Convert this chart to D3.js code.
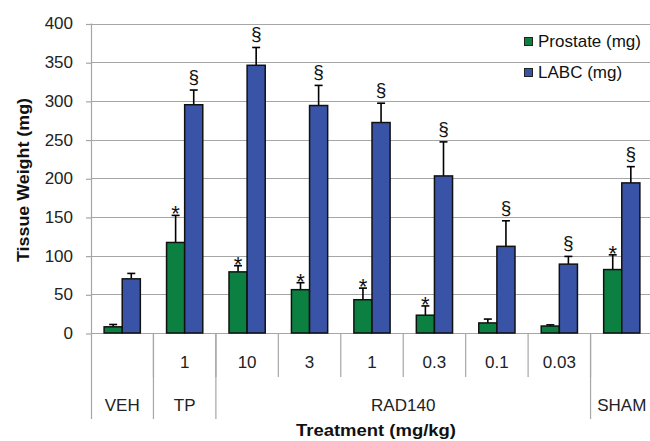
<!DOCTYPE html>
<html>
<head>
<meta charset="utf-8">
<script src="https://cdn.jsdelivr.net/npm/d3@7"></script>
<style>
  html, body { margin: 0; padding: 0; background: #fff; }
  svg { display: block; }
  text { font-family: "Liberation Sans", Arial, sans-serif; }
</style>
</head>
<body>
<svg id="chart" width="650" height="441"></svg>
<script>
// ---- data ----
const categories = ["VEH", "TP 1", "RAD140 10", "RAD140 3", "RAD140 1", "RAD140 0.3", "RAD140 0.1", "RAD140 0.03", "SHAM"];
const doseLabels = ["", "1", "10", "3", "1", "0.3", "0.1", "0.03", ""];
const groupLabels = ["VEH", "TP", "RAD140", "SHAM"];
const groupSpans = [[0, 1], [1, 2], [2, 8], [8, 9]];
const seriesNames = ["Prostate (mg)", "LABC (mg)"];
const prostate = [8, 117, 79, 56, 43, 23, 13, 9, 82];
const prostateErr = [3, 35, 8, 9, 15, 12, 5, 1.5, 19];
const labc = [70, 295, 346, 294, 272, 203, 112, 89, 194];
const labcErr = [7, 19, 23, 26, 25, 44, 33, 10, 21];
const prostateMarks = ["", "*", "*", "*", "*", "*", "", "", "*"];
const labcMarks = ["", "§", "§", "§", "§", "§", "§", "§", "§"];
const yTicks = [0, 50, 100, 150, 200, 250, 300, 350, 400];

const colors = ["#0b8040", "#3953a6"];

const svg = d3.select("#chart");
const plotLeft = 91, plotRight = 653, plotTop = 23.5, plotBottom = 333;

const x = d3.scaleBand().domain(categories).range([plotLeft, plotRight]).paddingInner(0.42).paddingOuter(0.21);
const xs = d3.scaleBand().domain([0, 1]).range([0, x.bandwidth()]);
const y = d3.scaleLinear().domain([0, 400]).range([plotBottom, plotTop]);
const step = x.step();
const edge = i => plotLeft + i * step;

// gridlines
svg.append("g").selectAll("line").data(yTicks).join("line")
  .attr("x1", plotLeft).attr("x2", 650)
  .attr("y1", d => Math.round(y(d)) + 0.5).attr("y2", d => Math.round(y(d)) + 0.5)
  .attr("stroke", "#a6a6a6").attr("stroke-width", 1.2);

// y axis
const yAxis = svg.append("g").attr("transform", `translate(${plotLeft},0)`)
  .call(d3.axisLeft(y).tickValues(yTicks).tickSize(5).tickPadding(13));
yAxis.select(".domain").remove();
yAxis.selectAll(".tick line").attr("stroke", "#a6a6a6").attr("stroke-width", 1.2)
  .attr("transform", "translate(0,0.5)");
yAxis.selectAll(".tick text").attr("font-size", 17).attr("fill", "#222")
  .attr("font-family", "Liberation Sans, Arial, sans-serif");

// axis line
svg.append("line").attr("x1", plotLeft + 0.5).attr("x2", plotLeft + 0.5).attr("y1", plotTop).attr("y2", 419)
  .attr("stroke", "#a6a6a6").attr("stroke-width", 1.2);

// category separators
const shortSeps = d3.range(1, categories.length + 1).map(edge);
svg.append("g").selectAll("line").data(shortSeps).join("line")
  .attr("x1", d => d).attr("x2", d => d).attr("y1", plotBottom).attr("y2", 377)
  .attr("stroke", "#a6a6a6").attr("stroke-width", 1.2);
const longSeps = groupSpans.map(s => edge(s[1]));
svg.append("g").selectAll("line").data(longSeps).join("line")
  .attr("x1", d => d).attr("x2", d => d).attr("y1", plotBottom).attr("y2", 419)
  .attr("stroke", "#a6a6a6").attr("stroke-width", 1.2);

// dose labels
svg.append("g").selectAll("text").data(doseLabels).join("text")
  .attr("x", (d, i) => x(categories[i]) + x.bandwidth() / 2)
  .attr("y", 368).attr("text-anchor", "middle").attr("font-size", 17).attr("fill", "#222")
  .text(d => d);

// group labels
svg.append("g").selectAll("text").data(groupLabels).join("text")
  .attr("x", (d, i) => (edge(groupSpans[i][0]) + edge(groupSpans[i][1])) / 2)
  .attr("y", 411).attr("text-anchor", "middle").attr("font-size", 17).attr("fill", "#222")
  .text(d => d);

// bars
const series = [
  { vals: prostate, errs: prostateErr, marks: prostateMarks },
  { vals: labc, errs: labcErr, marks: labcMarks }
];
series.forEach((s, si) => {
  const g = svg.append("g");
  const bx = (i) => x(categories[i]) + xs(si);
  // error bars
  g.selectAll("line.err").data(s.vals).join("line").attr("class", "err")
    .attr("x1", (d, i) => bx(i) + xs.bandwidth() / 2).attr("x2", (d, i) => bx(i) + xs.bandwidth() / 2)
    .attr("y1", d => y(d)).attr("y2", (d, i) => y(d + s.errs[i]))
    .attr("stroke", "#000").attr("stroke-width", 1.6);
  g.selectAll("line.cap").data(s.vals).join("line").attr("class", "cap")
    .attr("x1", (d, i) => bx(i) + xs.bandwidth() / 2 - 4).attr("x2", (d, i) => bx(i) + xs.bandwidth() / 2 + 4)
    .attr("y1", (d, i) => y(d + s.errs[i])).attr("y2", (d, i) => y(d + s.errs[i]))
    .attr("stroke", "#000").attr("stroke-width", 1.6);
  g.selectAll("rect").data(s.vals).join("rect")
    .attr("x", (d, i) => bx(i)).attr("width", xs.bandwidth())
    .attr("y", d => y(d)).attr("height", d => y(0) - y(d))
    .attr("fill", colors[si]).attr("stroke", "#111").attr("stroke-width", 1.5);
  g.selectAll("text").data(s.marks).join("text")
    .attr("x", (d, i) => bx(i) + xs.bandwidth() / 2)
    .attr("y", (d, i) => y(s.vals[i] + s.errs[i]) - (si === 0 ? -6 : 7))
    .attr("text-anchor", "middle")
    .attr("font-family", "Liberation Serif, Times New Roman, serif")
    .attr("font-size", si === 0 ? 22 : 19).attr("fill", "#111")
    .text(d => d);
});

// legend
const legend = svg.append("g");
seriesNames.forEach((n, i) => {
  legend.append("rect").attr("x", 524.5).attr("y", 37.5 + i * 31).attr("width", 8).attr("height", 8)
    .attr("fill", colors[i]).attr("stroke", "#222").attr("stroke-width", 1);
  legend.append("text").attr("x", 538).attr("y", 47 + i * 31).attr("font-size", 17).attr("fill", "#111").text(n);
});

// axis titles
svg.append("text").attr("transform", "translate(29,180) rotate(-90)")
  .attr("text-anchor", "middle").attr("font-size", 17).attr("font-weight", "bold").attr("fill", "#111")
  .attr("textLength", 164).attr("lengthAdjust", "spacingAndGlyphs")
  .text("Tissue Weight (mg)");
svg.append("text").attr("x", 376).attr("y", 436)
  .attr("text-anchor", "middle").attr("font-size", 17).attr("font-weight", "bold").attr("fill", "#111")
  .attr("textLength", 160).attr("lengthAdjust", "spacingAndGlyphs")
  .text("Treatment (mg/kg)");
</script>
</body>
</html>
